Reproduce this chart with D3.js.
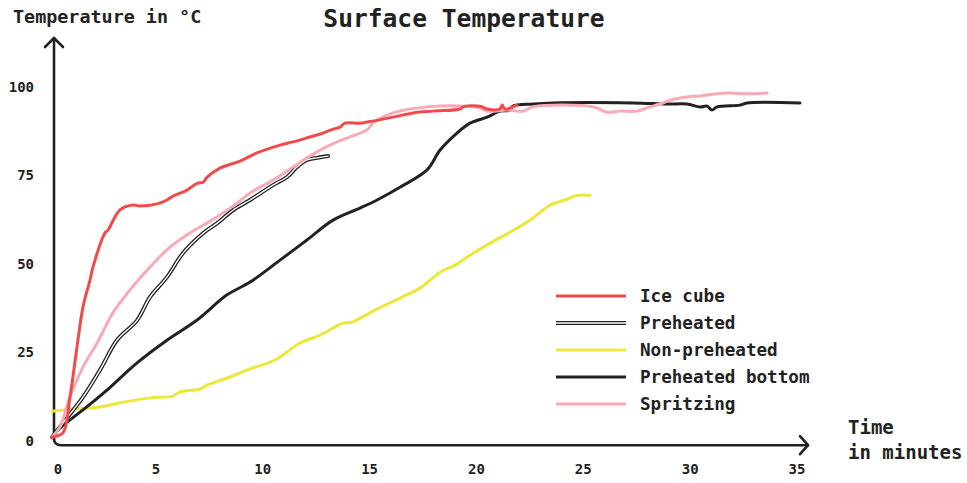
<!DOCTYPE html>
<html>
<head>
<meta charset="utf-8">
<script src="https://cdn.jsdelivr.net/npm/d3@7"></script>
<style>
  html, body { margin: 0; padding: 0; background: #fff; }
  svg { display: block; }
  text { font-family: "DejaVu Sans Mono", "Liberation Mono", monospace; font-weight: bold; fill: #222; }
</style>
</head>
<body>
<svg id="chart" width="967" height="483"></svg>
<script>
// ---- data (time in minutes, temperature in °C) ----
const iceCube = [
  [0,1],[0.51,2.2],[0.84,12.3],[1.17,26.5],[1.45,37.8],[1.78,45.4],[1.92,49.1],[2.48,58.7],[2.62,59.5],
  [3.18,65.2],[3.79,66.6],[4.12,66.3],[4.91,66.9],[5.38,68],[5.66,69.1],[6.32,70.8],[6.79,72.7],[7.07,73],
  [7.25,74.4],[7.86,77],[8.8,79],[9.59,81.3],[10.67,83.5],[11.28,84.4],[12.07,85.8],[12.68,86.9],[13.15,88],
  [13.48,88.6],[13.71,89.7],[14.41,89.7],[14.74,90],[15.96,91.4],[16.89,92.6],[17.83,93.1],[19.09,93.7],
  [19.23,94.3],[20.03,94.5],[20.36,93.7],[20.96,93.7],[21.06,94.8],[21.2,93.7],[21.57,94.3],[21.76,94.8]
];
const preheated = [
  [0,1],[0.37,3.9],[1.45,12.3],[2.25,20],[3.04,28.4],[3.98,34],[4.59,40.6],[5.38,46.2],[6.13,53],
  [7.07,58.6],[7.72,61.4],[8.47,65.1],[9.27,68],[10.34,72.2],[11,74.5],[11.46,77.3],[11.93,79.3],
  [12.4,79.9],[12.92,80.4]
];
const nonPreheated = [
  [0,8.3],[1.17,9],[2.25,9.5],[3.18,10.7],[4.59,12.1],[5.66,12.6],[5.99,13.8],[6.93,14.6],[7.25,15.7],
  [8.33,18],[9.27,20.3],[10.44,22.8],[11.6,27.6],[12.54,29.8],[13.62,33.2],[14.04,33.5],[15.11,36.9],
  [16.28,40.3],[17.22,43.1],[18.16,47.6],[18.86,49.6],[19.56,52.4],[20.5,55.8],[21.43,58.9],[22.37,62.3],
  [23.3,66.5],[24.1,68.2],[24.57,69.3],[25.18,69.3]
];
const preheatedBottom = [
  [0,1],[0.37,3.6],[1.45,8.7],[2.57,14.3],[3.98,22],[5.38,28.4],[6.79,34.1],[8.19,41.2],[9.27,44.8],
  [10.67,51],[11.93,56.7],[13.15,62.3],[14.41,65.7],[15.21,68],[16.28,71.6],[17.55,76.5],[18.16,82.1],
  [18.95,86.9],[19.56,89.7],[20.36,91.4],[20.96,93.1],[21.43,93.4],[21.57,94.5],[22.51,95.1],[23.44,95.4],
  [27.19,95.4],[28.78,95.1],[29.71,95.1],[30.32,94.3],[30.65,94.5],[30.88,93.4],[31.12,94.3],[32.19,94.8],
  [32.52,95.4],[35,95.4]
];
const spritzing = [
  [0,1],[0.37,3.9],[0.84,12.3],[1.45,20.8],[2.11,27.6],[2.85,36.1],[3.65,42.6],[4.59,49.1],[5.52,54.7],
  [6.46,58.7],[7.72,63.2],[8.66,67.1],[9.27,70],[10.34,73.6],[11.28,77.3],[11.93,79.9],[12.4,81.6],
  [13.01,83.5],[13.8,85.5],[14.74,87.8],[15.02,89.7],[15.96,92.6],[17.55,94.3],[19.42,94.5],[20.03,94],
  [20.36,93.1],[21.29,93.4],[22.04,93.1],[22.51,94.3],[25.32,94.3],[25.97,92.8],[26.58,93.1],[27.38,93.1],
  [27.84,94],[28.59,95.4],[28.92,96.2],[29.71,97.1],[30.32,97.4],[31.59,98.2],[32.52,98],[33.46,98.2]
];
const seriesNames = ["Ice cube", "Preheated", "Non-preheated", "Preheated bottom", "Spritzing"];
const xTicks = [0, 5, 10, 15, 20, 25, 30, 35];
const yTicks = [0, 25, 50, 75, 100];
const titleText = "Surface Temperature";
const yLabel = "Temperature in °C";
const xLabel = ["Time", "in minutes"];

// ---- setup ----
const svg = d3.select("#chart");
const x = d3.scaleLinear().domain([0, 35]).range([52, 800]);
const y = d3.scaleLinear().domain([0, 100]).range([440.7, 86.7]);

const styles = {
  "Ice cube": { color: "#f04a4a", double: false },
  "Preheated": { color: "#222", double: true },
  "Non-preheated": { color: "#ece83a", double: false },
  "Preheated bottom": { color: "#222", double: false },
  "Spritzing": { color: "#f8abb6", double: false }
};
const dataByName = {
  "Ice cube": iceCube, "Preheated": preheated, "Non-preheated": nonPreheated,
  "Preheated bottom": preheatedBottom, "Spritzing": spritzing
};

// ---- title and labels ----
svg.append("text").attr("x", 464).attr("y", 27).attr("text-anchor", "middle")
  .style("font-size", "24.6px").text(titleText);
svg.append("text").attr("x", 13).attr("y", 23).style("font-size", "18.4px").text(yLabel);
svg.append("text").attr("x", 848).attr("y", 434).style("font-size", "19px").text(xLabel[0]);
svg.append("text").attr("x", 848).attr("y", 459).style("font-size", "19px").text(xLabel[1]);

// ---- axes ----
const ax = x(0) + 2;        // vertical axis position
const ay = y(0) + 4.5;      // horizontal axis position
const r = 7;
const axisG = svg.append("g").attr("fill", "none").attr("stroke", "#222")
  .attr("stroke-width", 2.6).attr("stroke-linecap", "round").attr("stroke-linejoin", "round");
axisG.append("path").attr("d",
  `M${ax},38 L${ax},${ay - r} Q${ax},${ay} ${ax + r},${ay} L808,${ay}`);
axisG.append("path").attr("d", `M${ax - 9},47 L${ax},38 L${ax + 9},47`);
axisG.append("path").attr("d", `M800,${ay - 9} L808,${ay} L800,${ay + 9}`);

svg.append("g").selectAll("text").data(yTicks).join("text")
  .attr("x", 34).attr("y", d => y(d)).attr("text-anchor", "end")
  .attr("dominant-baseline", "central").style("font-size", "14px").text(d => d);

svg.append("g").selectAll("text").data(xTicks).join("text")
  .attr("x", d => Math.max(x(d) - 3, ax + 4)).attr("y", 469).attr("text-anchor", "middle")
  .attr("dominant-baseline", "central").style("font-size", "14px").text(d => d);

// ---- lines ----
const line = d3.line().x(d => x(d[0])).y(d => y(d[1])).curve(d3.curveCatmullRom.alpha(0.5));
const drawOrder = ["Non-preheated", "Preheated bottom", "Preheated", "Spritzing", "Ice cube"];
const linesG = svg.append("g").attr("fill", "none").attr("stroke-linejoin", "round").attr("stroke-linecap", "round");
drawOrder.forEach(name => {
  const s = styles[name];
  if (s.double) {
    linesG.append("path").attr("d", line(dataByName[name])).attr("stroke", s.color).attr("stroke-width", 4);
    linesG.append("path").attr("d", line(dataByName[name])).attr("stroke", "#fff").attr("stroke-width", 1.4);
  } else {
    linesG.append("path").attr("d", line(dataByName[name])).attr("stroke", s.color).attr("stroke-width", 3);
  }
});

// ---- legend ----
const legend = svg.append("g");
seriesNames.forEach((name, i) => {
  const ly = 296 + i * 27;
  const s = styles[name];
  if (s.double) {
    legend.append("line").attr("x1", 556).attr("x2", 626).attr("y1", ly).attr("y2", ly)
      .attr("stroke", s.color).attr("stroke-width", 4);
    legend.append("line").attr("x1", 556).attr("x2", 626).attr("y1", ly).attr("y2", ly)
      .attr("stroke", "#fff").attr("stroke-width", 1.4);
  } else {
    legend.append("line").attr("x1", 556).attr("x2", 626).attr("y1", ly).attr("y2", ly)
      .attr("stroke", s.color).attr("stroke-width", 3);
  }
  legend.append("text").attr("x", 640).attr("y", ly).attr("dominant-baseline", "central")
    .style("font-size", "17.6px").text(name);
});
</script>
</body>
</html>
